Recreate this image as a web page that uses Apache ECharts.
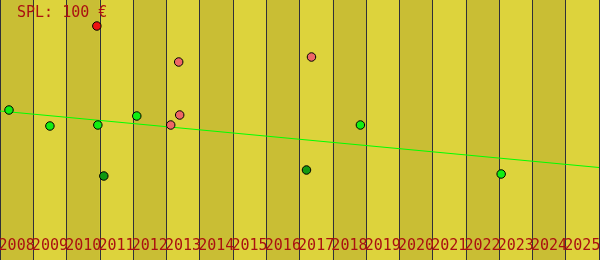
<!DOCTYPE html>
<html>
<head>
<meta charset="utf-8">
<script src="https://cdn.jsdelivr.net/npm/echarts@6/dist/echarts.min.js"></script>
<style>html,body{margin:0;padding:0;background:#ddd33c}#c{width:600px;height:260px}</style>
</head>
<body>
<div id="c"></div>
<script>
var years = ['2008','2009','2010','2011','2012','2013','2014','2015','2016','2017','2018','2019','2020','2021','2022','2023','2024','2025'];
var redPoints = [[2010.91, 117]];
var salmonPoints = [[2013.37, 99], [2013.40, 72.5], [2013.13, 67.5], [2017.36, 101.5]];
var greenPoints = [[2008.27, 75], [2009.50, 67], [2010.94, 67.5], [2012.11, 72], [2018.83, 67.5], [2023.06, 43]];
var darkGreenPoints = [[2011.12, 42], [2017.21, 45]];
var trendLine = [[2008, 74.5], [2026, 46.25]];

var chart = echarts.init(document.getElementById('c'));
function pts(data, color) {
  return {
    type: 'scatter', xAxisIndex: 1, data: data, symbolSize: 8.5,
    itemStyle: { color: color, borderColor: '#000', borderWidth: 1, opacity: 1 },
    z: 5
  };
}
chart.setOption({
  animation: false,
  title: {
    text: 'SPL: 100 €', left: 12, top: 1,
    textStyle: { fontFamily: 'DejaVu Sans Mono', fontSize: 15, fontWeight: 'normal', color: '#aa1111' }
  },
  grid: { left: 0, right: 1, top: 0, bottom: 0, containLabel: false, outerBoundsMode: 'none' },
  xAxis: [
    {
      type: 'category', data: years, boundaryGap: true, position: 'bottom',
      axisLine: { show: false }, axisTick: { show: false },
      axisLabel: { inside: true, margin: 6, fontFamily: 'DejaVu Sans Mono', fontSize: 15, color: '#aa1111', interval: 0, hideOverlap: false },
      splitLine: { show: true, interval: 0, lineStyle: { color: '#303038', width: 1 } },
      splitArea: { show: true, interval: 0, areaStyle: { color: ['#c9be34', '#ddd33c'] } }
    },
    {
      type: 'value', min: 2008, max: 2026, show: false
    }
  ],
  yAxis: { type: 'value', min: 0, max: 130, show: false, splitLine: { show: false } },
  series: [
    {
      type: 'line', xAxisIndex: 1, data: trendLine, symbol: 'none',
      lineStyle: { color: '#00ff00', width: 1 }, z: 4
    },
    pts(redPoints, '#ee1111'),
    pts(salmonPoints, '#ee6666'),
    pts(greenPoints, '#11ee11'),
    pts(darkGreenPoints, '#119911')
  ]
});
</script>
</body>
</html>
